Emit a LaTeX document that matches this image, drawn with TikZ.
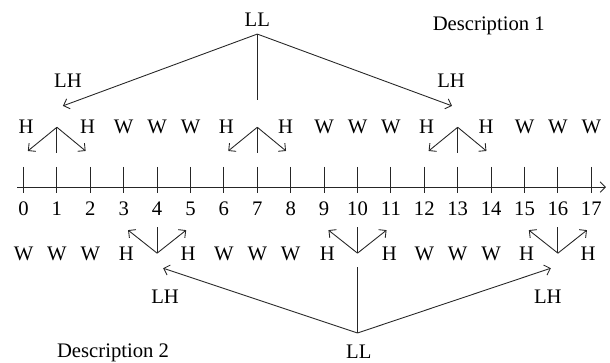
\documentclass[tikz,border=0pt]{standalone}
\usepackage{fontspec}
\setmainfont{Liberation Serif}
\usepackage{tikz}
\usetikzlibrary{arrows.meta}

\begin{document}
\begin{tikzpicture}
\tikzset{lbl/.style = {font=\fontsize{17.6}{20}\selectfont, inner sep=1pt}}
\tikzset{edge/.style = {-, line width=0.75pt, draw=black!85}}
\tikzset{arr/.style = {-{Straight Barb[length=4.5pt,width=9pt]}, line width=0.75pt, draw=black!85}}
\useasboundingbox (-0.704,-5.24) rectangle (17.56,5.60);

% axis
\coordinate (ax0) at (-0.19,0);
\coordinate (ax1) at (17.44,0);
\draw[arr] (ax0) to (ax1);
\foreach \k in {0,...,17} {
  \draw[edge] (\k,0.6) -- (\k,-0.18);
  \node[lbl] (n\k) at (\k,-0.66) {\k};
}

% description 1 (above)
\node[lbl] (ll1) at (7,5.0) {LL};
\node[lbl] (d1) at (13.93,4.83) {Description 1};
\node[lbl] (lh1) at (1.33,3.18) {LH};
\node[lbl] (lh2) at (12.8,3.18) {LH};
\coordinate (j1) at (7,4.58);
\coordinate (m1) at (7,2.60);
\coordinate (t1) at (1.18,2.43);
\coordinate (t2) at (12.83,2.43);
\draw[edge] (j1) to (m1);
\draw[arr] (j1) to (t1);
\draw[arr] (j1) to (t2);

\node[lbl] (ha1) at (0.08,1.8) {H};
\node[lbl] (hb1) at (1.92,1.8) {H};
\node[lbl] (w3) at (3,1.8) {W};
\node[lbl] (w4) at (4,1.8) {W};
\node[lbl] (w5) at (5,1.8) {W};
\node[lbl] (ha7) at (6.07,1.8) {H};
\node[lbl] (hb7) at (7.85,1.8) {H};
\node[lbl] (w9) at (9,1.8) {W};
\node[lbl] (w10) at (10,1.8) {W};
\node[lbl] (w11) at (11,1.8) {W};
\node[lbl] (ha13) at (12.07,1.8) {H};
\node[lbl] (hb13) at (13.85,1.8) {H};
\node[lbl] (w15) at (15,1.8) {W};
\node[lbl] (w16) at (16,1.8) {W};
\node[lbl] (w17) at (17,1.8) {W};

\foreach \k in {1,7,13} {
  \coordinate (p\k) at (\k,1.79);
  \coordinate (s\k) at (\k,1.01);
  \coordinate (l\k) at (\k-0.87,1.08);
  \coordinate (r\k) at (\k+0.86,1.08);
  \draw[edge] (p\k) to (s\k);
  \draw[arr] (p\k) to (l\k);
  \draw[arr] (p\k) to (r\k);
}

% description 2 (below)
\node[lbl] (wa0) at (0,-2.0) {W};
\node[lbl] (wa1) at (1,-2.0) {W};
\node[lbl] (wa2) at (2,-2.0) {W};
\node[lbl] (ha4) at (3.08,-2.0) {H};
\node[lbl] (hb4) at (4.93,-2.0) {H};
\node[lbl] (wa6) at (6,-2.0) {W};
\node[lbl] (wa7) at (7,-2.0) {W};
\node[lbl] (wa8) at (8,-2.0) {W};
\node[lbl] (ha10) at (9.1,-2.0) {H};
\node[lbl] (hb10) at (10.95,-2.0) {H};
\node[lbl] (wa12) at (12,-2.0) {W};
\node[lbl] (wa13) at (13,-2.0) {W};
\node[lbl] (wa14) at (14,-2.0) {W};
\node[lbl] (ha16) at (15.06,-2.0) {H};
\node[lbl] (hb16) at (16.9,-2.0) {H};

\foreach \k in {4,10,16} {
  \coordinate (p\k) at (\k,-1.98);
  \coordinate (s\k) at (\k,-1.20);
  \coordinate (l\k) at (\k-0.87,-1.29);
  \coordinate (r\k) at (\k+0.87,-1.29);
  \draw[edge] (p\k) to (s\k);
  \draw[arr] (p\k) to (l\k);
  \draw[arr] (p\k) to (r\k);
}

\node[lbl] (ll2) at (10.04,-4.92) {LL};
\node[lbl] (d2) at (2.68,-4.97) {Description 2};
\node[lbl] (lh3) at (4.24,-3.27) {LH};
\node[lbl] (lh4) at (15.7,-3.27) {LH};
\coordinate (j2) at (10,-4.37);
\coordinate (m2) at (10,-2.40);
\coordinate (t3) at (4.18,-2.43);
\coordinate (t4) at (15.79,-2.43);
\draw[edge] (j2) to (m2);
\draw[arr] (j2) to (t3);
\draw[arr] (j2) to (t4);
\end{tikzpicture}
\end{document}
